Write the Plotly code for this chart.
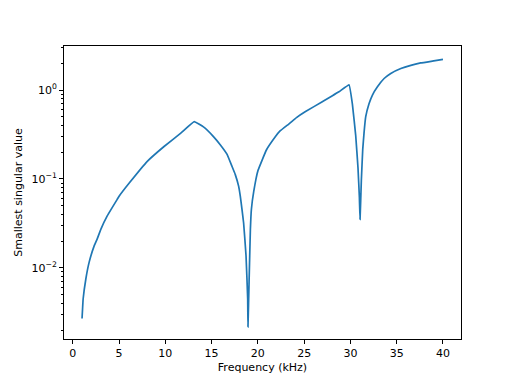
import plotly.graph_objects as go

# Frequency (kHz) and smallest singular value
freq = [1.0, 1.12, 1.41, 1.77, 2.31, 2.63, 3.04, 3.72, 4.8, 5.02, 6.1, 8.05, 9.86, 11.67, 13.12,
        14.12, 15.2, 15.93, 16.66, 17.2, 17.56, 17.92, 18.1, 18.28, 18.46, 18.72, 18.9, 18.93,
        19.05, 19.19, 19.3, 19.55, 20.02, 20.92, 21.9, 22.37, 23.34, 24.17, 25.15, 26.96,
        28.76, 29.85,
        30.21, 30.57, 30.82, 30.97, 31.04,
        31.18, 31.33, 31.47, 31.65, 32.01, 32.38, 32.92, 33.64, 34.36, 35.45,
        36.53, 37.6, 39.0, 40.0]
sigma = [0.0027, 0.0045, 0.0075, 0.0116, 0.0177, 0.0211, 0.0273, 0.0384, 0.059, 0.0643, 0.090,
         0.158, 0.232, 0.328, 0.442,
         0.385, 0.30, 0.243, 0.19, 0.139, 0.112, 0.083, 0.064, 0.0457, 0.032, 0.0137, 0.0045, 0.00217,
         0.007, 0.027, 0.0457, 0.072, 0.125, 0.212, 0.30, 0.345, 0.415, 0.49, 0.573, 0.741,
         0.957, 1.15,
         0.70, 0.31, 0.133, 0.062, 0.035,
         0.095, 0.214, 0.328, 0.50, 0.70, 0.88, 1.09, 1.35, 1.54, 1.75,
         1.90, 2.02, 2.13, 2.22]

x_ticks = [0, 5, 10, 15, 20, 25, 30, 35, 40]
y_ticks = [1e-2, 1e-1, 1e0]
y_tick_text = ["10<sup>−2</sup>", "10<sup>−1</sup>", "10<sup>0</sup>"]
y_minor = [m * 10.0 ** e for e in (-3, -2, -1, 0) for m in range(2, 10) if m * 10.0 ** e <= 3.0]

fig = go.Figure()
fig.add_trace(go.Scatter(x=freq, y=sigma, mode="lines",
                         line=dict(color="#1f77b4", width=1.7, shape="spline", smoothing=0.25),
                         showlegend=False))

axis_common = dict(showline=True, linecolor="black", linewidth=1, mirror=True,
                   ticks="outside", ticklen=4, tickcolor="black", tickwidth=1,
                   showgrid=False, zeroline=False,
                   tickfont=dict(family="DejaVu Sans", size=11, color="black"))

fig.update_layout(
    width=512, height=384,
    margin=dict(l=64, r=51, t=46, b=43),
    paper_bgcolor="white", plot_bgcolor="white",
    font=dict(family="DejaVu Sans", size=11, color="black"),
    xaxis=dict(range=[-0.95, 41.95], tickvals=x_ticks,
               title=dict(text="Frequency (kHz)", standoff=4,
                          font=dict(family="DejaVu Sans", size=11)),
               **axis_common),
    yaxis=dict(type="log", range=[-2.80, 0.496], tickvals=y_ticks, ticktext=y_tick_text,
               minor=dict(tickvals=y_minor, ticks="outside", ticklen=2, tickcolor="black"),
               title=dict(text="Smallest singular value", standoff=6,
                          font=dict(family="DejaVu Sans", size=11)),
               **axis_common),
)

fig.write_html("out.html", config={"displayModeBar": False},
               post_script="document.body.style.margin='0px';")
